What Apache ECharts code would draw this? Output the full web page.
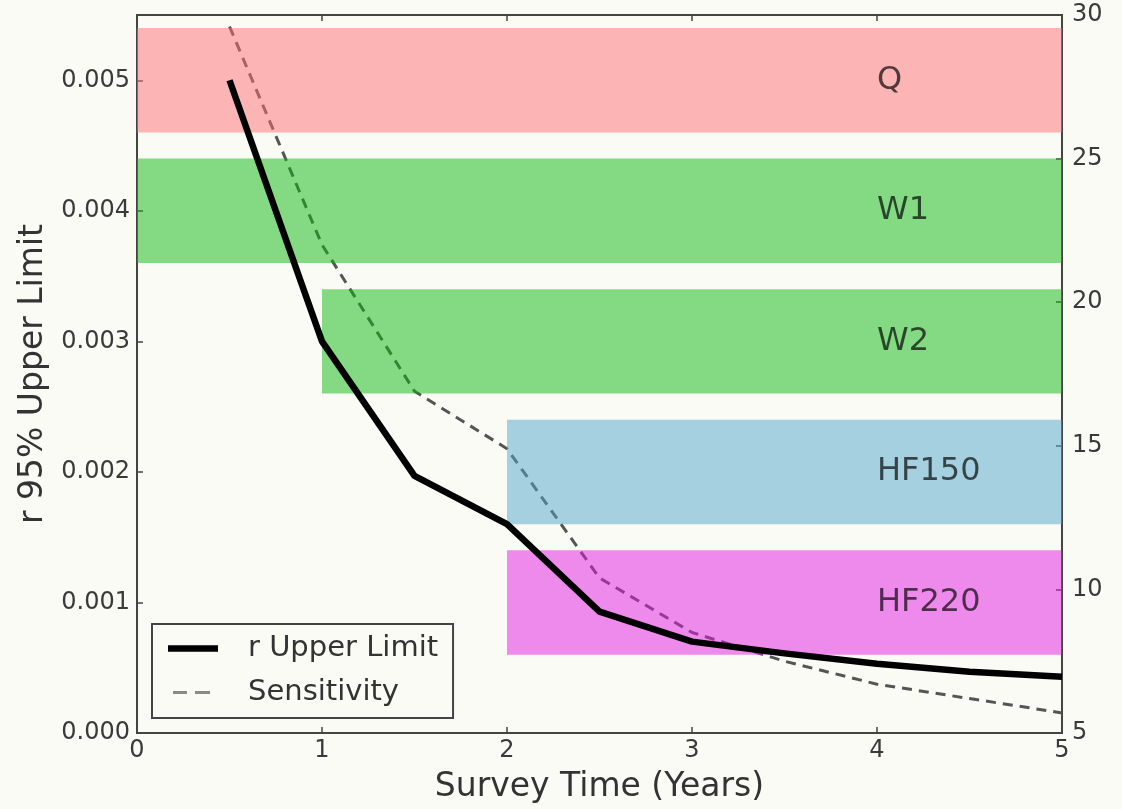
<!DOCTYPE html>
<html><head><meta charset="utf-8">
<script src="https://cdn.jsdelivr.net/npm/echarts@6/dist/echarts.min.js"></script>
<style>html,body{margin:0;padding:0;background:#fbfbf6}#c{width:1122px;height:809px}</style>
</head><body><div id="c"></div>
<script>
// ---- data ----
const years = [0.5, 1, 1.5, 2, 2.5, 3, 3.5, 4, 4.5, 5];
const rUpperLimit = [0.005, 0.003, 0.00197, 0.0016, 0.00093, 0.0007, 0.00061, 0.00053, 0.00047, 0.00043];
const sensitivity = [29.6, 22, 16.9, 14.9, 10.4, 8.5, 7.5, 6.7, 6.2, 5.7];
const bandNames = ['Q', 'W1', 'W2', 'HF150', 'HF220'];
const bandStart = [0, 0, 1, 2, 2];
const bandEnd = [5, 5, 5, 5, 5];
const bandLow = [0.0046, 0.0036, 0.0026, 0.0016, 0.0006];
const bandHigh = [0.0054, 0.0044, 0.0034, 0.0024, 0.0014];
const bandLabelX = 4.0;
const bandColors = ['rgba(255,109,115,0.5)', 'rgba(13,185,13,0.5)', 'rgba(13,185,13,0.5)', 'rgba(77,165,201,0.5)', 'rgba(225,25,225,0.5)'];

const FONT = 'DejaVu Sans';
const chart = echarts.init(document.getElementById('c'));

function renderBand(params, api) {
  const i = params.dataIndex;
  const x0 = api.value(0), x1 = api.value(1), lo = api.value(2), hi = api.value(3);
  const p0 = api.coord([x0, hi]);
  const p1 = api.coord([x1, lo]);
  const lp = api.coord([bandLabelX, (lo + hi) / 2]);
  return {
    type: 'group',
    children: [
      { type: 'rect', shape: { x: p0[0], y: p0[1], width: p1[0] - p0[0], height: p1[1] - p0[1] },
        style: { fill: bandColors[i] } },
      { type: 'text', x: lp[0], y: lp[1],
        style: { text: bandNames[i], fill: 'rgba(0,0,0,0.68)', font: '32px "' + FONT + '"', align: 'left', verticalAlign: 'middle' } }
    ]
  };
}

function axisLine() { return { show: true, onZero: false, lineStyle: { color: '#444', width: 2 } }; }
function ticks() { return { show: true, inside: true, length: 6, lineStyle: { color: '#444', width: 1.5 } }; }
function labels(extra) { return Object.assign({ color: '#3a3a3a', fontSize: 24, fontFamily: FONT }, extra || {}); }

// legend icons (filled shapes in a 50x14 box; tiny corner specks keep the box)
const corners = 'M0,0 L0.05,0 L0.05,0.05 Z M50,14 L49.95,14 L49.95,13.95 Z ';
const iconSolid = 'path://' + corners + 'M0,3.8 L50,3.8 L50,10.2 L0,10.2 Z';
const iconDashed = 'path://' + corners + 'M5,5.6 L19,5.6 L19,8.4 L5,8.4 Z M27,5.6 L42,5.6 L42,8.4 L27,8.4 Z';

chart.setOption({
  backgroundColor: '#fbfbf6',
  animation: false,
  grid: { left: 137, right: 60, top: 15, bottom: 76, show: true, borderColor: '#444', borderWidth: 2, backgroundColor: 'transparent' },
  legend: {
    orient: 'vertical', left: 152, top: 624,
    data: [
      { name: 'r Upper Limit', icon: iconSolid, itemStyle: { color: '#000' } },
      { name: 'Sensitivity', icon: iconDashed, itemStyle: { color: '#8a8a8a' } }
    ],
    itemWidth: 50, itemHeight: 14, itemGap: 15,
    padding: [10, 15, 11, 16],
    borderColor: '#444', borderWidth: 2, backgroundColor: '#fbfbf6',
    textStyle: { color: '#333', fontSize: 29, fontFamily: FONT, padding: [0, 0, 0, 25] }
  },
  xAxis: [
    { type: 'value', min: 0, max: 5, interval: 1, position: 'bottom',
      name: 'Survey Time (Years)', nameLocation: 'middle', nameGap: 38,
      nameTextStyle: { color: '#333', fontSize: 33, fontFamily: FONT },
      axisLine: axisLine(), axisTick: ticks(),
      axisLabel: labels({ margin: 6 }), splitLine: { show: false } },
    { type: 'value', min: 0, max: 5, interval: 1, position: 'top',
      axisLine: axisLine(), axisTick: ticks(),
      axisLabel: { show: false }, splitLine: { show: false } }
  ],
  yAxis: [
    { type: 'value', min: 0, max: 0.0055, interval: 0.001, position: 'left',
      name: 'r 95% Upper Limit', nameLocation: 'middle', nameGap: 86,
      nameTextStyle: { color: '#333', fontSize: 33, fontFamily: FONT },
      axisLine: axisLine(), axisTick: ticks(),
      axisLabel: labels({ margin: 7, showMaxLabel: false, formatter: v => v.toFixed(3) }),
      splitLine: { show: false } },
    { type: 'value', min: 5, max: 30, interval: 5, position: 'right',
      axisLine: axisLine(), axisTick: ticks(),
      axisLabel: labels({ margin: 10 }), splitLine: { show: false } }
  ],
  series: [
    { name: 'Sensitivity', type: 'line', xAxisIndex: 0, yAxisIndex: 1, z: 2,
      data: years.map((x, i) => [x, sensitivity[i]]),
      symbol: 'none', lineStyle: { color: '#555', width: 3, type: [10, 7] }, itemStyle: { color: '#555' } },
    { name: 'bands', type: 'custom', xAxisIndex: 0, yAxisIndex: 0, z: 3,
      renderItem: renderBand,
      encode: { x: [0, 1], y: [2, 3] },
      data: bandNames.map((n, i) => [bandStart[i], bandEnd[i], bandLow[i], bandHigh[i]]) },
    { name: 'r Upper Limit', type: 'line', xAxisIndex: 0, yAxisIndex: 0, z: 4,
      data: years.map((x, i) => [x, rUpperLimit[i]]),
      symbol: 'none', lineStyle: { color: '#000', width: 6.5, join: 'round' }, itemStyle: { color: '#000' } }
  ]
});
</script>
</body></html>
